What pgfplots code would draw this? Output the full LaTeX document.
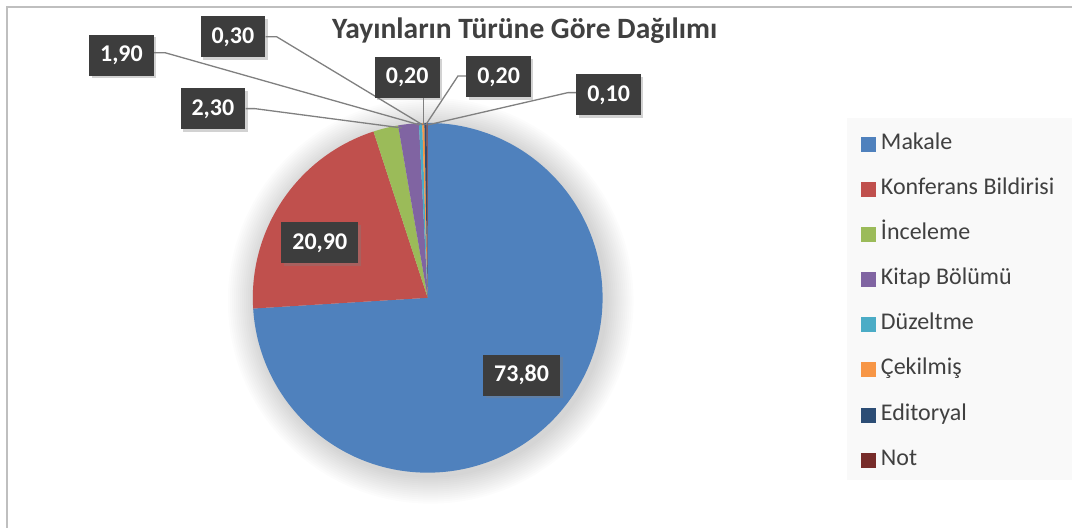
\documentclass[border=0pt]{standalone}
\usepackage{fontspec}
\setmainfont{Carlito}
\usepackage{pgfplots}
\pgfplotsset{compat=1.18}
\usepackage{pgfplotstable}
\usetikzlibrary{shadows}

\definecolor{pc0}{HTML}{4F81BD}
\definecolor{pc1}{HTML}{C0504D}
\definecolor{pc2}{HTML}{9BBB59}
\definecolor{pc3}{HTML}{8064A2}
\definecolor{pc4}{HTML}{4BACC6}
\definecolor{pc5}{HTML}{F79646}
\definecolor{pc6}{HTML}{2C4D75}
\definecolor{pc7}{HTML}{772C2A}
\definecolor{txt}{HTML}{404040}
\definecolor{boxc}{HTML}{3D3D3D}
\definecolor{legbg}{HTML}{F9F9F9}

% slice values; lx,ly = label box centre; bx,by -> ax,ay -> ex,ey = leader line (pixel coords)
\pgfplotstableread[col sep=comma]{
name,value,lx,ly,bx,by,ax,ay,ex,ey
Makale,73.80,522,375.5,0,0,0,0,0,0
Konferans Bildirisi,20.90,320,243,0,0,0,0,0,0
İnceleme,2.30,213,109,245.7,108.7,255,108.7,402,128
Kitap Bölümü,1.90,121.5,55.5,154,52.7,165,52.7,420,125
Düzeltme,0.30,233,37,265.7,36.7,276.7,36.7,423,125
Çekilmiş,0.20,407.5,77.3,423.5,97.3,423.5,97.3,423.5,125
Editoryal,0.20,499,77,466.7,76,458.3,76,426,125
Not,0.10,609,95,576.7,92.7,568.3,92.7,428,125
}\pietable

% total and slice angles (start at top, clockwise)
\gdef\pietotal{0}%
\foreach \i in {0,...,7}{%
  \pgfplotstablegetelem{\i}{value}\of\pietable
  \pgfmathsetmacro\tmp{\pietotal+\pgfplotsretval}%
  \global\let\pietotal\tmp
}%
\newcommand\getv[2]{\pgfplotstablegetelem{#1}{#2}\of\pietable
  \expandafter\xdef\csname #2#1\endcsname{\pgfplotsretval}}%
\gdef\pcur{90}%
\foreach \i in {0,...,7}{%
  \pgfplotstablegetelem{\i}{value}\of\pietable
  \pgfmathsetmacro\nx{\pcur-(\pgfplotsretval/\pietotal)*360}%
  \expandafter\xdef\csname sa\i\endcsname{\pcur}%
  \expandafter\xdef\csname ea\i\endcsname{\nx}%
  \global\let\pcur\nx
  \getv{\i}{value}\getv{\i}{lx}\getv{\i}{ly}%
  \getv{\i}{bx}\getv{\i}{by}\getv{\i}{ax}\getv{\i}{ay}%
  \getv{\i}{ex}\getv{\i}{ey}%
}%

\pgfplotsset{sq/.style={legend image code/.code={\fill[#1] (0pt,-7pt) rectangle (14pt,7pt);}}}
\tikzset{
  lbl/.style={fill=boxc, text=white, font=\bfseries\fontsize{24}{28}\selectfont,
    inner xsep=11pt, inner ysep=0pt, minimum height=41pt,
    drop shadow={shadow xshift=2.5pt, shadow yshift=-2.5pt, opacity=0.35}},
  leader/.style={draw=black!50, line width=1.3pt},
}

\begin{document}
\begin{tikzpicture}
\begin{axis}[
  x=1pt, y=1pt, y dir=reverse,
  xmin=0, xmax=1073, ymin=0, ymax=528,
  hide axis, clip=false,
  legend cell align=left,
  legend style={at={(axis cs:861,133.5)}, anchor=north west,
    draw=none, fill=none, inner sep=0pt, row sep=23.6pt,
    font=\fontsize{24}{28}\selectfont, text=txt,
    nodes={inner sep=0pt, text height=16pt, text depth=5.5pt},
    /tikz/every odd column/.append style={column sep=6pt}},
]
% background, frame, legend area
\fill[white] (axis cs:0,0) rectangle (axis cs:1073,528);
\fill[legbg] (axis cs:848,118) rectangle (axis cs:1073,480);
\draw[black!25, line width=1.5pt] (axis cs:7,528) -- (axis cs:7,7) -- (axis cs:1073,7);

% soft shadow behind the pie
\pgfplotsinvokeforeach{1,...,14}{
  \fill[black, opacity=0.012] (axis cs:431,301) circle[radius={175pt+2pt*#1}];
}

% slices
\pgfplotsinvokeforeach{0,...,7}{
  \edef\temp{\noexpand\fill[pc#1] (axis cs:428,298) -- ++(\csname sa#1\endcsname:175pt)
    arc[start angle=\csname sa#1\endcsname, end angle=\csname ea#1\endcsname, radius=175pt] -- cycle;}\temp
}

% leader lines
\pgfplotsinvokeforeach{2,...,7}{
  \edef\temp{\noexpand\draw[leader] (axis cs:\csname bx#1\endcsname,\csname by#1\endcsname)
    -- (axis cs:\csname ax#1\endcsname,\csname ay#1\endcsname)
    -- (axis cs:\csname ex#1\endcsname,\csname ey#1\endcsname);}\temp
}

% data labels
\pgfplotsinvokeforeach{0,...,7}{
  \edef\temp{\noexpand\node[lbl] at (axis cs:\csname lx#1\endcsname,\csname ly#1\endcsname)
    {\noexpand\pgfmathprintnumber[fixed, fixed zerofill, precision=2, use comma, assume math mode=true]{\csname value#1\endcsname}};}\temp
}

% title
\node[anchor=base, font=\bfseries\fontsize{29.5}{34}\selectfont, text=txt]
  at (axis cs:525,38.3) {Yayınların Türüne Göre Dağılımı};

\addlegendimage{sq=pc0}\addlegendentry{Makale}
\addlegendimage{sq=pc1}\addlegendentry{Konferans Bildirisi}
\addlegendimage{sq=pc2}\addlegendentry{İnceleme}
\addlegendimage{sq=pc3}\addlegendentry{Kitap Bölümü}
\addlegendimage{sq=pc4}\addlegendentry{Düzeltme}
\addlegendimage{sq=pc5}\addlegendentry{Çekilmiş}
\addlegendimage{sq=pc6}\addlegendentry{Editoryal}
\addlegendimage{sq=pc7}\addlegendentry{Not}
\end{axis}
\end{tikzpicture}
\end{document}
